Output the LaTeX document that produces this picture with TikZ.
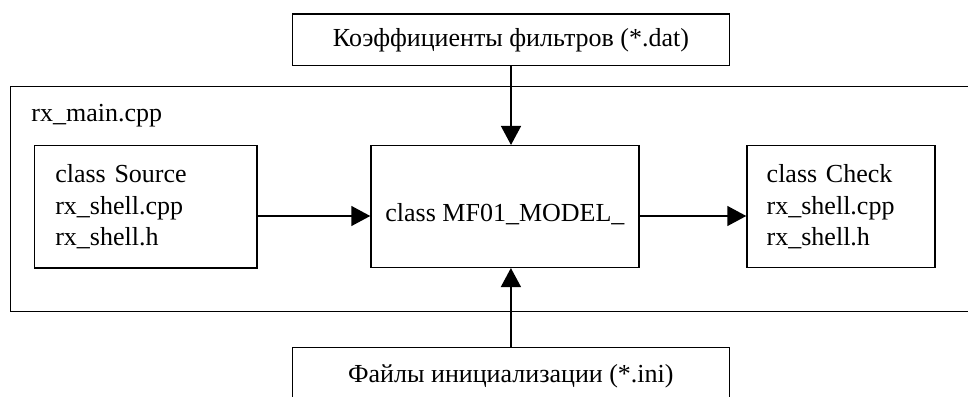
\documentclass[tikz,border=0pt]{standalone}
\usepackage{fontspec}
\setmainfont{Liberation Serif}
\usetikzlibrary{arrows.meta,positioning}
\tikzset{
  blk/.style={draw, line width=0.75pt, inner sep=0pt, font=\fontsize{13pt}{15.75pt}\selectfont},
  txt/.style={inner sep=0pt, font=\fontsize{13pt}{15.75pt}\selectfont},
  flowarrow/.style={line width=0.75pt, -{Triangle[length=9.5pt,width=10pt]}}
}
\begin{document}
\begin{tikzpicture}[x=0.5pt, y=-0.5pt]
\useasboundingbox (0,0) rectangle (968,396);
\clip (0,0) rectangle (968,396);

% Main program frame (runs off to the right)
\node[blk, minimum width=489.65pt, minimum height=112.6pt] (mainfile) at (500.35,198.9) {};
\node[txt, anchor=base west] (mainname) at (31,121.5) {rx\_main.cpp};

% Filter coefficients file
\node[blk, minimum width=218.3pt, minimum height=25.85pt] (coefs) at (511,39.85) {Коэффициенты фильтров (*.dat)};

% Init files
\node[blk, minimum width=218.4pt, minimum height=28.5pt] (inits) at (510.9,376.2) {Файлы инициализации (*.ini)};

% Classes
\node[blk, text width=90.35pt, inner xsep=10.5pt, align=left, minimum height=61.15pt] (source) at (145.65,206.85) {class Source\\rx\_shell.cpp\\rx\_shell.h};
\node[blk, minimum width=134pt, minimum height=60.8pt] (model) at (505,206.5) {};
\node[txt, anchor=base west] (modelname) at (385,221.5) {class MF01\_MODEL\_};
\node[blk, text width=74.3pt, inner xsep=9.85pt, align=left, minimum height=61pt] (check) at (841,206.7) {class Check\\rx\_shell.cpp\\rx\_shell.h};

% Data flow
\coordinate (flow) at (0,216);
\draw[flowarrow] (source.east |- flow) -- (model.west |- flow);
\draw[flowarrow] (model.east |- flow) -- (check.west |- flow);
\draw[flowarrow] (coefs.south) -- (coefs.south |- model.north);
\draw[flowarrow] (inits.north) -- (inits.north |- model.south);
\end{tikzpicture}
\end{document}
